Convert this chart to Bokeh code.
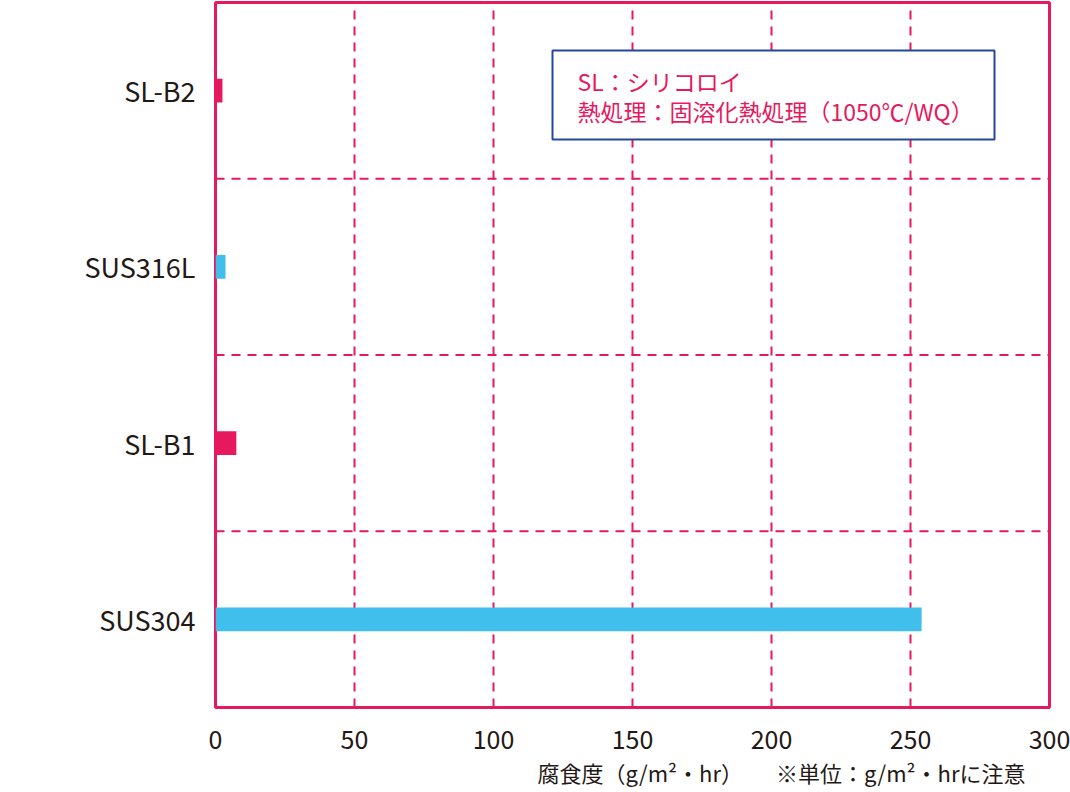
from bokeh.plotting import figure
from bokeh.models import FactorRange, Range1d, FixedTicker, Span, Label, BoxAnnotation, ColumnDataSource, Title
from bokeh.embed import file_html
from bokeh.resources import INLINE

categories = ["SUS304", "SL-B1", "SUS316L", "SL-B2"]
values = [254, 7.5, 3.6, 2.5]
bar_colors = ["#41BFEC", "#E6195E", "#41BFEC", "#E6195E"]
x_ticks = [0, 50, 100, 150, 200, 250, 300]
legend_lines = ["SL：シリコロイ", "熱処理：固溶化熱処理（1050℃/WQ）"]
axis_title = "腐食度（g/m²・hr）"
unit_note = "※単位：g/m²・hrに注意"

CRIMSON = "#E6195E"
DARK = "#231815"
JP = "Noto Sans CJK JP"

p = figure(
    y_range=FactorRange(factors=categories),
    x_range=Range1d(0, 300),
    frame_width=834, frame_height=705,
    min_border_left=215, min_border_right=21, min_border_top=2, min_border_bottom=85,
    output_backend="svg", toolbar_location=None,
)
p.outline_line_color = CRIMSON
p.outline_line_width = 3
p.outline_line_alpha = 1.0
p.background_fill_color = "white"
p.border_fill_color = "white"

src = ColumnDataSource(dict(y=categories, right=values, color=bar_colors))
p.hbar(y="y", right="right", left=0, height=0.135, color="color", source=src, line_color=None)

p.xaxis.ticker = FixedTicker(ticks=x_ticks)
for ax in (p.xaxis, p.yaxis):
    ax.axis_line_color = None
    ax.major_tick_line_color = None
    ax.minor_tick_line_color = None
    ax.major_label_text_font = JP
    ax.major_label_text_color = DARK
p.xaxis.major_label_text_font_size = "25px"
p.xaxis.major_label_standoff = 16
p.yaxis.major_label_text_font_size = "27px"
p.yaxis.major_label_standoff = 14

p.xgrid.grid_line_color = CRIMSON
p.xgrid.grid_line_width = 2
p.xgrid.grid_line_dash = "9 7"
p.ygrid.grid_line_color = None

for i in range(1, len(categories)):
    p.add_layout(Span(location=i, dimension="width", line_color=CRIMSON,
                      line_width=2, line_dash="9 7"))

p.add_layout(BoxAnnotation(left=337, right=779, bottom=568, top=657,
                           left_units="screen", right_units="screen",
                           bottom_units="screen", top_units="screen",
                           fill_color="white", fill_alpha=1.0,
                           line_color="#24499B", line_width=2, line_alpha=1.0))

for i, t in enumerate(legend_lines):
    p.add_layout(Label(x=362, y=627 - 30 * i, x_units="screen", y_units="screen",
                       text=t, text_font=JP, text_font_size="23px",
                       text_color=CRIMSON, text_baseline="middle"))

bottom_text = axis_title + "\u3000\u3000" + unit_note
p.add_layout(Title(text=bottom_text, align="left", offset=322,
                   text_font=JP, text_font_size="22px", text_font_style="normal",
                   text_color=DARK, standoff=4), "below")

open("out.html", "w").write(file_html(p, INLINE))
